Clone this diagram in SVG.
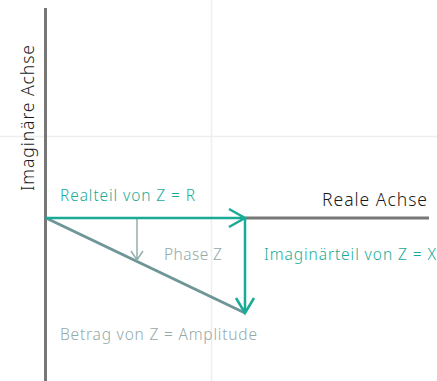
<svg xmlns="http://www.w3.org/2000/svg" width="437" height="381" viewBox="0 0 437 381">
<style>
.grid{stroke:#eeeeee;stroke-width:1.5;fill:none}
.axis{stroke:#777777;stroke-width:3;fill:none}
.teal{stroke:#1aab97;stroke-width:2.5;fill:none}
.diag{stroke:#6e9696;stroke-width:3;fill:none}
.phase{stroke:#94aeae;stroke-width:1.5;fill:none}
text{font-family:"Noto Sans","Liberation Sans",sans-serif;font-weight:300}
.t{fill:#1aab97;font-size:15.5px}
.g{fill:#94aaaa;font-size:15.5px}
.k{fill:#1a1a1a;font-size:17.5px}
</style>
<rect width="437" height="381" fill="#ffffff"/>
<g id="grid">
<line class="grid" x1="0" y1="136.5" x2="437" y2="136.5"/>
<line class="grid" x1="211.5" y1="0" x2="211.5" y2="381"/>
</g>
<g id="axes">
<line class="axis" x1="45.5" y1="8" x2="45.5" y2="381"/>
<line class="axis" x1="245" y1="218" x2="429" y2="218"/>
</g>
<g id="connectors">
<line class="diag" x1="46" y1="218" x2="245" y2="313"/>
<path class="phase" d="M137 218V260M131 251L137 260L143 251"/>
<path class="teal" d="M46 218H245M229 209L245 218L229 227"/>
<path class="teal" d="M245 218V313M236 298L245 313L254 298"/>
</g>
<g id="labels">
<text class="k" transform="translate(34 191) rotate(-90)" textLength="146">Imaginäre Achse</text>
<text class="k" x="322" y="206" textLength="105">Reale Achse</text>
<text class="t" x="60" y="201" textLength="135">Realteil von Z = R</text>
<text class="g" x="164" y="260" textLength="58">Phase Z</text>
<text class="t" x="264" y="260" textLength="172">Imaginärteil von Z = X</text>
<text class="g" x="60" y="340" textLength="197">Betrag von Z = Amplitude</text>
</g>
</svg>
